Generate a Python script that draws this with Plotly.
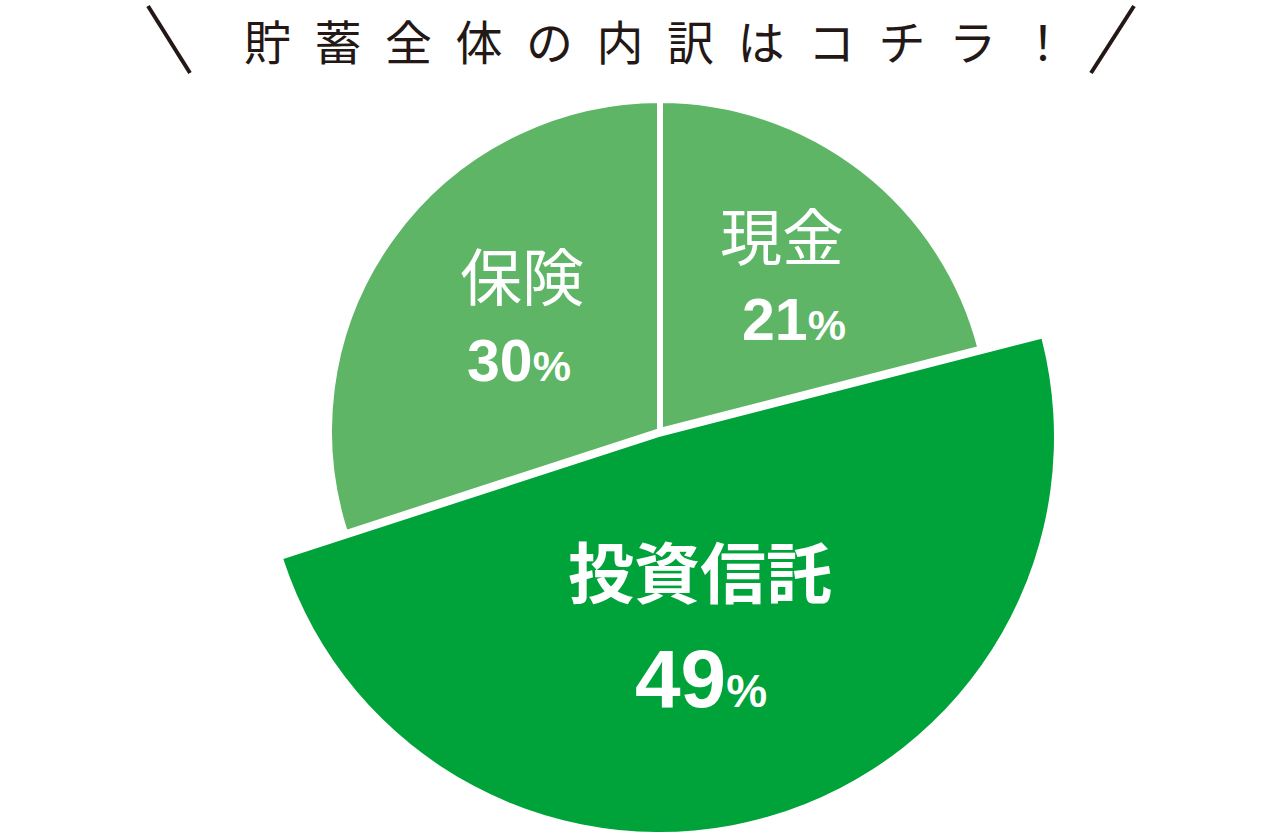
import plotly.graph_objects as go

# ---- data ----
categories = ["現金", "投資信託", "保険"]
values = [21, 49, 30]
title_text = "貯蓄全体の内訳はコチラ！"

# ---- styles / layout constants ----
W, H = 1280, 838
LIGHT = "#5db565"
DARK = "#00a23a"
INK = "#231815"
WHITE = "#ffffff"

def px_x(x):
    return x / W

def px_y(y):
    return 1 - y / H

def domain(cx, cy, r):
    return dict(x=[(cx - r) / W, (cx + r) / W],
                y=[(H - cy - r) / H, (H - cy + r) / H])

fig = go.Figure()

# enlarged slice (投資信託)
big_colors = ["rgba(0,0,0,0)", DARK, "rgba(0,0,0,0)"]
fig.add_trace(go.Pie(
    labels=categories, values=values, sort=False, direction="clockwise", rotation=0,
    marker=dict(colors=big_colors, line=dict(color=WHITE, width=0)),
    textinfo="none", hoverinfo="skip", showlegend=False,
    domain=domain(659, 437, 395),
))

# regular slices (現金, 保険)
small_colors = [LIGHT, "rgba(0,0,0,0)", LIGHT]
fig.add_trace(go.Pie(
    labels=categories, values=values, sort=False, direction="clockwise", rotation=0,
    marker=dict(colors=small_colors, line=dict(color=WHITE, width=[6, 0, 6])),
    textinfo="none", hoverinfo="skip", showlegend=False,
    domain=domain(660, 431, 331),
))

# label positions (pixel centres) for name and percentage per category
name_pos = {"現金": (782, 234), "投資信託": (700, 569), "保険": (522, 274)}
pct_pos = {"現金": (794, 320), "投資信託": (701, 678), "保険": (519, 361)}
name_size = {"現金": 62, "投資信託": 66, "保険": 62}
name_weight = {"現金": 400, "投資信託": 700, "保険": 400}
num_size = {"現金": 59, "投資信託": 82, "保険": 59}
pct_size = {"現金": 43, "投資信託": 46, "保険": 43}

annotations = []
for cat, v in zip(categories, values):
    nx, ny = name_pos[cat]
    annotations.append(dict(
        x=px_x(nx), y=px_y(ny), xref="paper", yref="paper",
        text=cat, showarrow=False, xanchor="center", yanchor="middle",
        font=dict(family="Noto Sans CJK JP", size=name_size[cat], color=WHITE,
                  weight=name_weight[cat]),
    ))
    qx, qy = pct_pos[cat]
    annotations.append(dict(
        x=px_x(qx), y=px_y(qy), xref="paper", yref="paper",
        text=f"{v}<span style='font-size:{pct_size[cat]}px'>%</span>",
        showarrow=False, xanchor="center", yanchor="middle",
        font=dict(family="Liberation Sans", size=num_size[cat], color=WHITE, weight=700),
    ))

# title
annotations.append(dict(
    x=px_x(655), y=px_y(40), xref="paper", yref="paper",
    text="\u2002".join(list(title_text)), showarrow=False,
    xanchor="center", yanchor="middle",
    font=dict(family="Noto Sans CJK JP", size=47, color=INK, weight=400),
))

shapes = [
    dict(type="line", xref="paper", yref="paper",
         x0=px_x(148), y0=px_y(6), x1=px_x(190), y1=px_y(73),
         line=dict(color=INK, width=4)),
    dict(type="line", xref="paper", yref="paper",
         x0=px_x(1134), y0=px_y(6), x1=px_x(1091), y1=px_y(73),
         line=dict(color=INK, width=4)),
]

fig.update_layout(
    width=W, height=H,
    margin=dict(l=0, r=0, t=0, b=0),
    paper_bgcolor=WHITE, plot_bgcolor=WHITE,
    annotations=annotations, shapes=shapes,
    showlegend=False,
)

fig.write_html(
    "out.html",
    config={"displayModeBar": False},
    post_script="document.body.style.margin='0';document.body.style.overflow='hidden';",
)
